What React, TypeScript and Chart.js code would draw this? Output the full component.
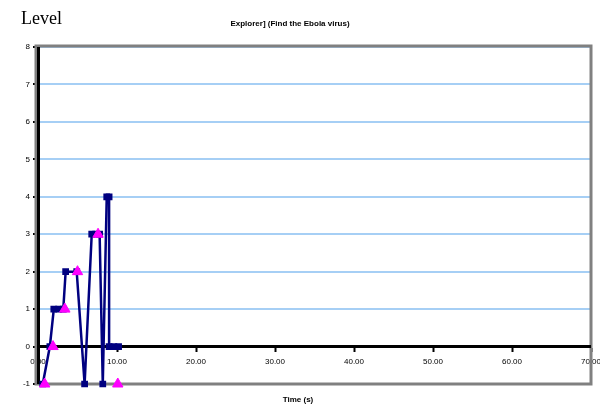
import React, { useEffect, useRef } from "react";
import { Chart, registerables } from "chart.js";

Chart.register(...registerables);

const titleText = "Explorer] (Find the Ebola virus)";
const cornerText = "Level";
const xTitleText = "Time (s)";

const lineX = [0.6, 1.5, 2.0, 2.6, 3.2, 3.5, 4.9, 5.9, 6.8, 7.3, 7.8, 8.2, 8.7, 9.0, 9.0, 9.6, 10.2];
const lineY = [-1, 0, 1, 1, 1, 2, 2, -1, 3, 3, 3, -1, 4, 4, 0, 0, 0];

const triX = [0.85, 1.9, 3.4, 5.0, 7.6, 10.1];
const triY = [-1, 0, 1, 2, 3, -1];

const xMin = 0;
const xMax = 70;
const xStep = 10;
const yMin = -1;
const yMax = 8;
const yStep = 1;

const textPlugin = {
  id: "textPlugin",
  beforeDatasetsDraw(chart: any) {
    const { ctx, chartArea } = chart;
    ctx.save();
    ctx.strokeStyle = "#808080";
    ctx.lineWidth = 3;
    ctx.strokeRect(chartArea.left - 2, chartArea.top - 1, chartArea.right - chartArea.left + 2, chartArea.bottom - chartArea.top + 1);
    ctx.strokeStyle = "#000000";
    ctx.lineWidth = 3;
    ctx.beginPath();
    ctx.moveTo(chartArea.left + 0.5, chartArea.top);
    ctx.lineTo(chartArea.left + 0.5, chartArea.bottom);
    ctx.stroke();
    const y0 = chart.scales.y.getPixelForValue(0);
    ctx.beginPath();
    ctx.moveTo(chartArea.left, y0);
    ctx.lineTo(chartArea.right, y0);
    ctx.stroke();
    ctx.restore();
  },
  afterDraw(chart: any) {
    const { ctx } = chart;
    ctx.save();
    ctx.fillStyle = "#000000";
    ctx.textBaseline = "alphabetic";
    ctx.textAlign = "left";
    ctx.font = "18px 'Liberation Serif', serif";
    ctx.fillText(cornerText, 21, 24);
    ctx.textAlign = "center";
    ctx.font = "bold 8px 'Liberation Sans', Arial, sans-serif";
    ctx.fillText(titleText, 290, 26);
    ctx.fillText(xTitleText, 298, 402);
    ctx.restore();
  },
};

export default function App() {
  const ref = useRef<HTMLCanvasElement>(null);
  useEffect(() => {
    document.body.style.margin = "0";
    const c = new Chart(ref.current as HTMLCanvasElement, {
      type: "scatter",
      data: {
        datasets: [
          {
            type: "line",
            data: lineX.map((x, i) => ({ x, y: lineY[i] })),
            borderColor: "#000080",
            backgroundColor: "#000080",
            borderWidth: 2.5,
            pointStyle: "rect",
            pointRadius: 3,
            showLine: true,
            tension: 0,
            order: 2,
            clip: false,
          } as any,
          {
            data: triX.map((x, i) => ({ x, y: triY[i] })),
            borderColor: "#ff00ff",
            backgroundColor: "#ff00ff",
            pointStyle: "triangle",
            pointRadius: 6,
            showLine: false,
            order: 1,
            clip: false,
          } as any,
        ],
      },
      options: {
        animation: false,
        responsive: false,
        layout: { padding: { left: 8, right: 9, top: 47, bottom: 21 } },
        plugins: { legend: { display: false }, title: { display: false }, tooltip: { enabled: false } },
        scales: {
          x: {
            type: "linear",
            position: { y: 0 } as any,
            min: xMin,
            max: xMax,
            afterFit: (s: any) => {
              s.paddingLeft = 0;
              s.paddingRight = 0;
            },
            ticks: {
              stepSize: xStep,
              callback: (v: any) => Number(v).toFixed(2),
              font: { size: 8, family: "'Liberation Sans', Arial, sans-serif" },
              color: "#000000",
              maxRotation: 0,
              padding: 6,
            },
            grid: { drawOnChartArea: false, color: "#000000", tickLength: 4, tickWidth: 2 },
            border: { display: true, color: "#000000", width: 3 },
          },
          y: {
            type: "linear",
            min: yMin,
            max: yMax,
            afterFit: (s: any) => {
              s.width = 30;
            },
            ticks: {
              stepSize: yStep,
              font: { size: 8, family: "'Liberation Sans', Arial, sans-serif" },
              color: "#000000",
              padding: 3,
            },
            grid: {
              color: "#a6cff5",
              lineWidth: 2,
              tickColor: "#000000",
              tickLength: 5,
              tickWidth: 2,
            },
            border: { display: true, color: "#000000", width: 3 },
          },
        },
      },
      plugins: [textPlugin],
    });
    return () => c.destroy();
  }, []);
  return <canvas ref={ref} width={600} height={405} style={{ display: "block" }} />;
}
